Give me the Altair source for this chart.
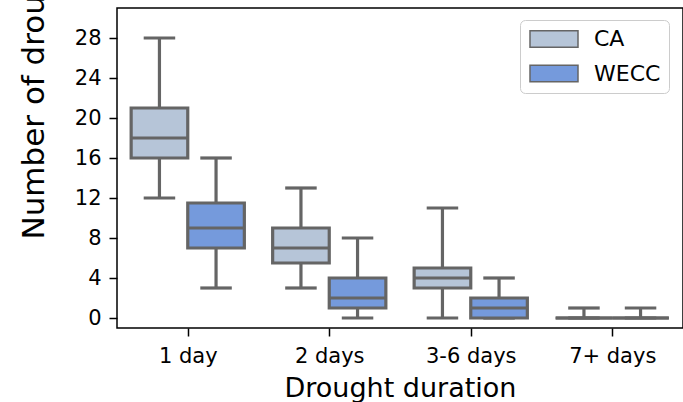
import altair as alt
import pandas as pd

# Drought-count distributions per duration class, for two regions
durations = ["1 day", "2 days", "3-6 days", "7+ days"]
regions = ["CA", "WECC"]

ca_low = [12, 3, 0, 0]
ca_q1 = [16, 5.5, 3, 0]
ca_median = [18, 7, 4, 0]
ca_q3 = [21, 9, 5, 0]
ca_high = [28, 13, 11, 1]

wecc_low = [3, 0, 0, 0]
wecc_q1 = [7, 1, 0, 0]
wecc_median = [9, 2, 1, 0]
wecc_q3 = [11.5, 4, 2, 0]
wecc_high = [16, 8, 4, 1]

region_colors = ["#b6c5d8", "#759adc"]
edge_gray = "#656565"
font = "DejaVu Sans"

box_width = 0.4
offsets = {"CA": -0.2, "WECC": 0.2}

rows = []
for region, stats in [
    ("CA", (ca_low, ca_q1, ca_median, ca_q3, ca_high)),
    ("WECC", (wecc_low, wecc_q1, wecc_median, wecc_q3, wecc_high)),
]:
    low, q1, med, q3, high = stats
    for i, d in enumerate(durations):
        xc = i + offsets[region]
        rows.append({
            "region": region, "duration": d, "xc": xc,
            "x_lo": xc - box_width / 2, "x_hi": xc + box_width / 2,
            "cap_lo": xc - box_width / 4, "cap_hi": xc + box_width / 4,
            "low": low[i], "q1": q1[i], "median": med[i], "q3": q3[i], "high": high[i],
        })
df = pd.DataFrame(rows)

label_expr = "[" + ",".join(f"'{d}'" for d in durations) + "][datum.value]"

x_scale = alt.Scale(domain=[-0.5, 3.5], nice=False, zero=False)
y_scale = alt.Scale(domain=[-1, 31], nice=False, zero=False)

x_axis = alt.Axis(
    values=[0, 1, 2, 3], labelExpr=label_expr, title="Drought duration",
    labelFontSize=21, labelFont=font, labelColor="black", labelBaseline="alphabetic",
    labelPadding=26, tickSize=8, tickColor="black", tickWidth=1.5,
    titleFontSize=27, titleFont=font, titleFontWeight="normal", titleColor="black",
    titleBaseline="alphabetic", titleY=68, grid=False, domain=False,
)
y_axis = alt.Axis(
    values=list(range(0, 29, 4)), title="Number of droughts",
    labelFontSize=21, labelFont=font, labelColor="black", labelPadding=8,
    tickSize=8, tickColor="black", tickWidth=1.5,
    titleFontSize=31, titleFont=font, titleFontWeight="normal", titleColor="black",
    titleAngle=270, titleAlign="left", titleBaseline="alphabetic",
    titleX=-74, titleY=231, grid=False, domain=False,
)

base = alt.Chart(df)

whiskers = base.mark_rule(color=edge_gray, strokeWidth=3.2).encode(
    x=alt.X("xc:Q", scale=x_scale, axis=x_axis),
    y=alt.Y("low:Q", scale=y_scale, axis=y_axis),
    y2="high:Q",
)

cap_low = base.mark_rule(color=edge_gray, strokeWidth=3.2, strokeCap="square").encode(
    x="cap_lo:Q", x2="cap_hi:Q", y="low:Q",
)
cap_high = base.mark_rule(color=edge_gray, strokeWidth=3.2, strokeCap="square").encode(
    x="cap_lo:Q", x2="cap_hi:Q", y="high:Q",
)

# wide rectangular legend swatch, starting at the entry's left edge
swatch_path = "M-1,-0.93H4.333V0.93H-1Z"

boxes = base.mark_bar(stroke=edge_gray, strokeWidth=3.2, opacity=1).encode(
    x="x_lo:Q", x2="x_hi:Q", y="q1:Q", y2="q3:Q",
    color=alt.Color(
        "region:N",
        scale=alt.Scale(domain=regions, range=region_colors),
        legend=alt.Legend(
            title=None, orient="none", legendX=403, legendY=12,
            symbolType=swatch_path, symbolSize=324,
            symbolStrokeColor=edge_gray, symbolStrokeWidth=1.5, symbolOpacity=1,
            labelFontSize=22, labelFont=font, labelColor="black", labelOffset=44,
            rowPadding=10.5, padding=8, fillColor="white",
            strokeColor="#cccccc", cornerRadius=5,
        ),
    ),
)

medians = base.mark_rule(color=edge_gray, strokeWidth=3.2).encode(
    x="x_lo:Q", x2="x_hi:Q", y="median:Q",
)

chart = (
    alt.layer(whiskers, cap_low, cap_high, boxes, medians)
    .properties(
        width=566, height=320,
        background="white",
        autosize=alt.AutoSizeParams(type="none"),
        padding={"left": 117, "top": 8, "right": 0, "bottom": 74},
    )
    .configure_view(stroke="black", strokeWidth=1.5)
)

chart.save("out.html", embed_options={"renderer": "svg", "actions": False})
